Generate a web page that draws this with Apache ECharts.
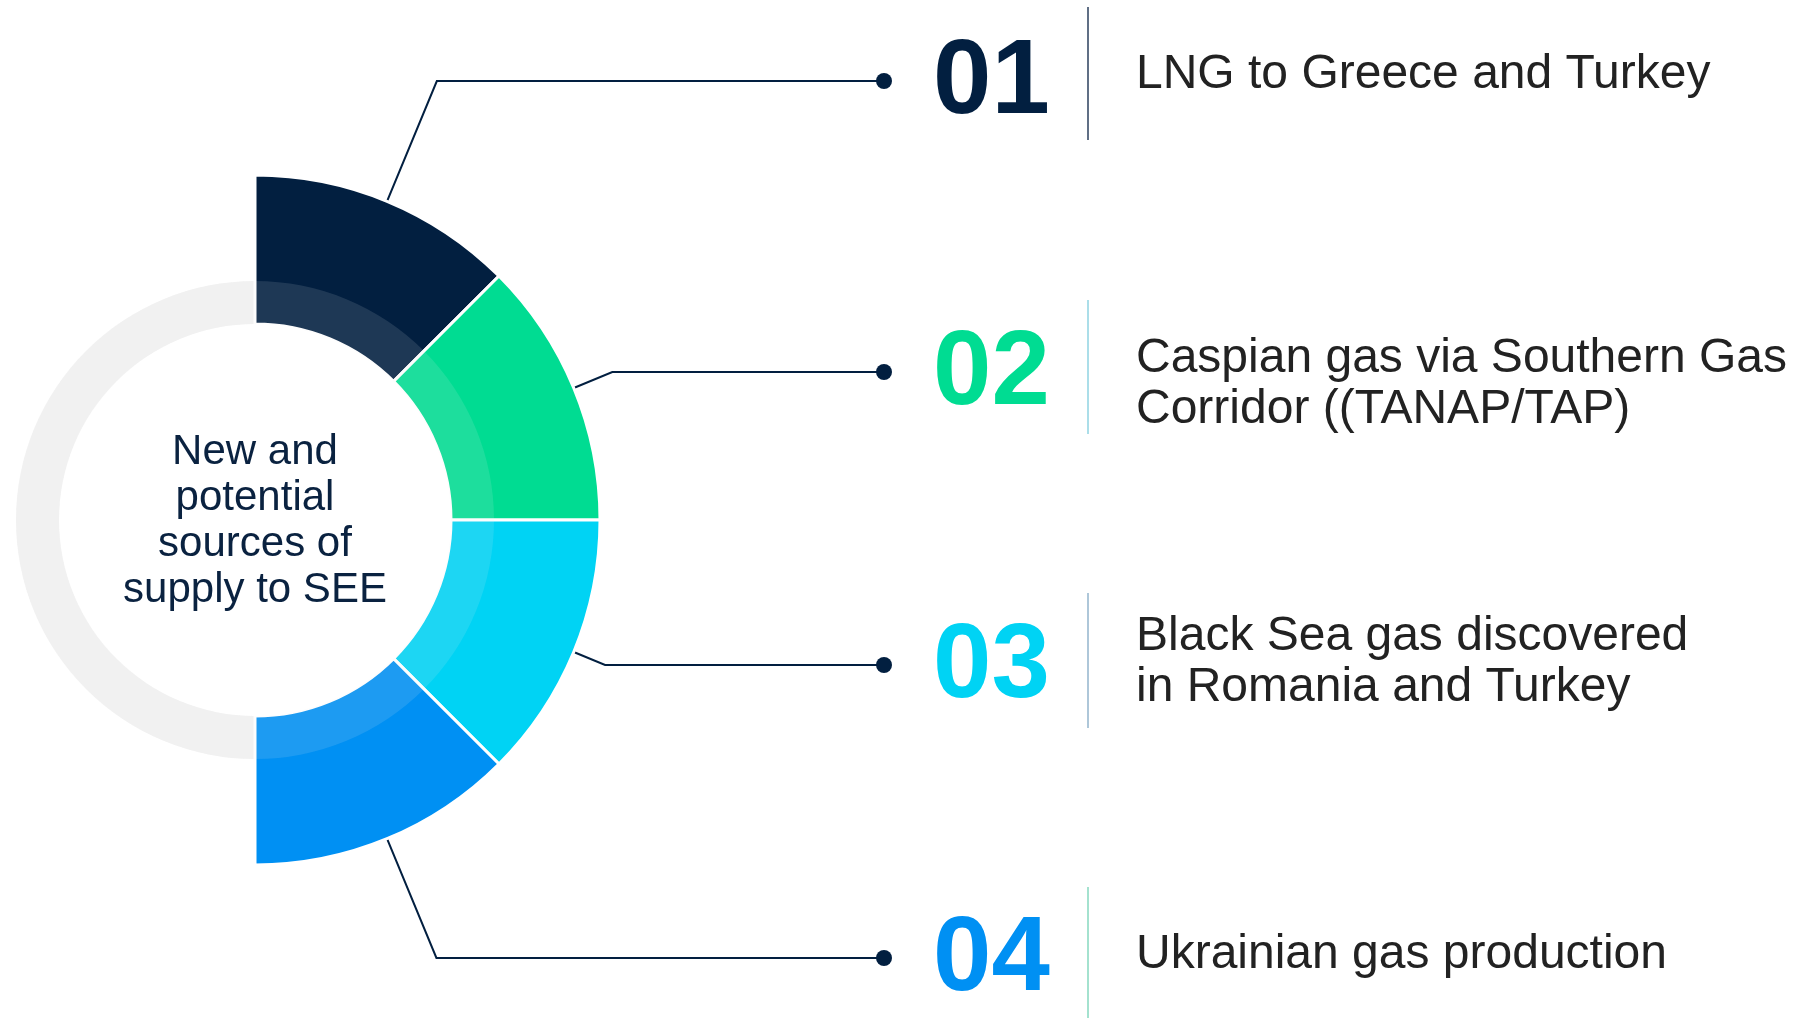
<!DOCTYPE html>
<html>
<head>
<meta charset="utf-8">
<title>New and potential sources of supply to SEE</title>
<script src="https://cdn.jsdelivr.net/npm/echarts@6.0.0/dist/echarts.min.js"></script>
<style>
  html, body { margin: 0; padding: 0; background: #fff; }
  #chart { width: 1802px; height: 1018px; }
</style>
</head>
<body>
<div id="chart"></div>
<script>
// data
const sourceIds = ['01', '02', '03', '04']
const sourceNames = [
  'LNG to Greece and Turkey',
  'Caspian gas via Southern Gas\nCorridor ((TANAP/TAP)',
  'Black Sea gas discovered\nin Romania and Turkey',
  'Ukrainian gas production'
]
const sourceShares = [1, 1, 1, 1]
const sourceColors = ['#021f40', '#00dc92', '#00d3f4', '#0090f3']
const dividerColors = ['#2b3f5c', '#8fd3e2', '#93b5cc', '#86d9bf']
const centerLines = ['New and', 'potential', 'sources of', 'supply to SEE']

// layout
const CX = 255
const CY = 520
const R_IN = 196
const R_RING = 239
const R_OUT = 345
const DOT_X = 884
const ROW_Y = [81, 372, 665, 958]
const DESC_Y = [75, 384, 662, 955]
const DIVIDER_X = 1088
const DIVIDER_Y = [[7, 140], [300, 434], [593, 728], [887, 1018]]
const FONT = '"Liberation Sans", Arial, sans-serif'

const total = sourceShares.reduce((a, b) => a + b, 0)
let cum = 0
const pieData = sourceShares.map((v, i) => {
  const mid = (90 - 180 * (cum + v / 2) / total) * Math.PI / 180
  cum += v
  const dist = (CY - ROW_Y[i]) / Math.sin(mid)
  return {
    name: sourceNames[i],
    value: v,
    itemStyle: { color: sourceColors[i] },
    labelLine: {
      length: dist - R_OUT,
      length2: DOT_X - (CX + dist * Math.cos(mid))
    },
    label: { formatter: '{dot|}{gap|}{n' + i + '|' + sourceIds[i] + '}' }
  }
})

const rich = {
  dot: { width: 16, height: 16, borderRadius: 8, backgroundColor: '#021f40' },
  gap: { width: 41, height: 16 }
}
sourceColors.forEach((c, i) => {
  rich['n' + i] = {
    fontSize: 105,
    fontWeight: 'bold',
    fontFamily: FONT,
    color: c,
    lineHeight: 108,
    padding: [6, 0, 0, 0]
  }
})

const graphics = []
DIVIDER_Y.forEach((yy, i) => {
  graphics.push({
    type: 'line',
    silent: true,
    shape: { x1: DIVIDER_X, y1: yy[0], x2: DIVIDER_X, y2: yy[1] },
    style: { stroke: dividerColors[i], lineWidth: 1.5 }
  })
})
sourceNames.forEach((t, i) => {
  graphics.push({
    type: 'text',
    silent: true,
    x: 1136,
    y: DESC_Y[i],
    style: {
      text: t,
      font: '48px ' + FONT,
      fill: '#222222',
      lineHeight: 51,
      align: 'left',
      verticalAlign: 'middle'
    }
  })
})

const chart = echarts.init(document.getElementById('chart'))
chart.setOption({
  backgroundColor: '#ffffff',
  animation: false,
  graphic: { elements: graphics },
  series: [
    {
      type: 'pie',
      silent: true,
      z: 1,
      center: [CX, CY],
      radius: [R_IN, R_RING],
      data: [{ value: 1, itemStyle: { color: '#f2f2f2' } }],
      label: {
        show: true,
        position: 'center',
        formatter: centerLines.join('\n'),
        fontSize: 42,
        lineHeight: 46,
        fontFamily: FONT,
        color: '#0a2240',
        offset: [0, 1]
      },
      labelLine: { show: false }
    },
    {
      type: 'pie',
      silent: true,
      z: 2,
      center: [CX, CY],
      radius: [R_IN, R_OUT],
      startAngle: 90,
      endAngle: -90,
      clockwise: true,
      avoidLabelOverlap: false,
      itemStyle: { borderColor: '#ffffff', borderWidth: 3 },
      label: {
        show: true,
        position: 'outside',
        alignTo: 'none',
        distanceToLabelLine: -8,
        rich: rich
      },
      labelLine: {
        show: true,
        smooth: false,
        lineStyle: { color: '#021f40', width: 2 }
      },
      data: pieData
    },
    {
      type: 'pie',
      silent: true,
      z: 3,
      center: [CX, CY],
      radius: [R_IN, R_RING],
      data: [{ value: 1, itemStyle: { color: 'rgba(242,242,242,0.12)' } }],
      label: { show: false },
      labelLine: { show: false }
    }
  ]
})
</script>
</body>
</html>
